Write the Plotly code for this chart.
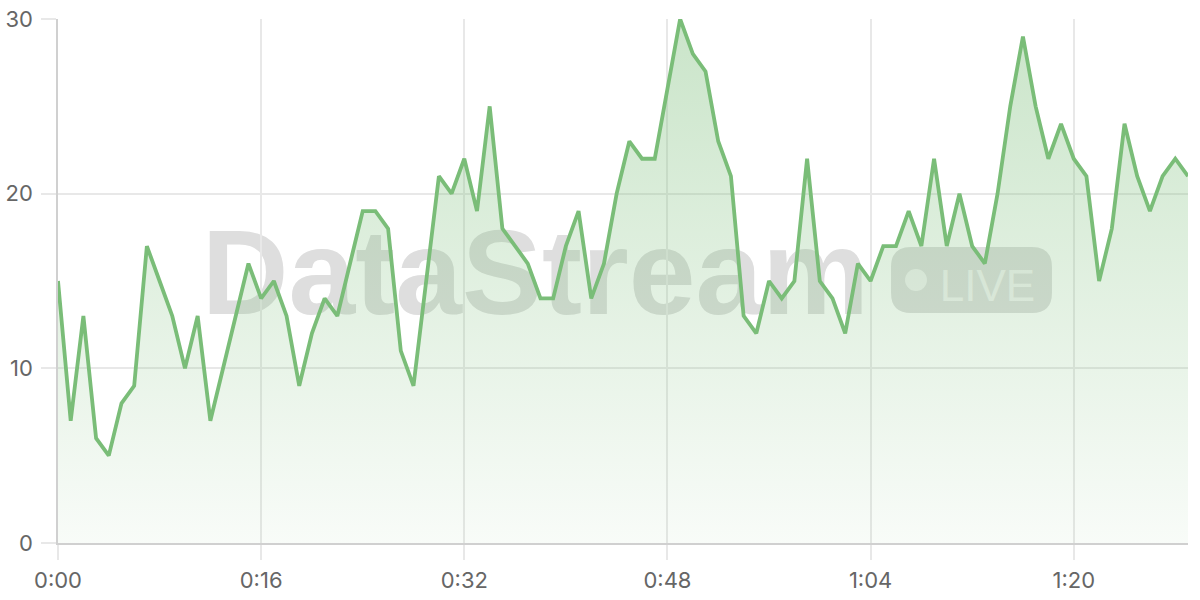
import plotly.graph_objects as go

seconds = list(range(90))
values = [15, 7, 13, 6, 5, 8, 9, 17, 15, 13,
          10, 13, 7, 10, 13, 16, 14, 15, 13, 9,
          12, 14, 13, 16, 19, 19, 18, 11, 9, 15,
          21, 20, 22, 19, 25, 18, 17, 16, 14, 14,
          17, 19, 14, 16, 20, 23, 22, 22, 26, 30,
          28, 27, 23, 21, 13, 12, 15, 14, 15, 22,
          15, 14, 12, 16, 15, 17, 17, 19, 17, 22,
          17, 20, 17, 16, 20, 25, 29, 25, 22, 24,
          22, 21, 15, 18, 24, 21, 19, 21, 22, 21]
x_tick_vals = [0, 16, 32, 48, 64, 80]
x_tick_text = ["0:00", "0:16", "0:32", "0:48", "1:04", "1:20"]
y_tick_vals = [0, 10, 20, 30]

fig = go.Figure()
fig.add_trace(go.Scatter(
    x=seconds, y=values, mode="lines",
    line=dict(color="rgb(122,189,120)", width=3.8),
    fill="tozeroy",
    fillgradient=dict(type="vertical", start=0, stop=30,
                      colorscale=[[0, "rgba(122,189,120,0.05)"],
                                  [1, "rgba(122,189,120,0.40)"]]),
    hoverinfo="skip",
))

# watermark (below traces)
fig.add_shape(type="rect", xref="paper", yref="paper", layer="below",
              x0=0.122, x1=0.73, y0=0.408, y1=0.668,
              line=dict(width=0), fillcolor="rgba(0,0,0,0)",
              label=dict(text="<b>DataStream</b>", textposition="middle left",
                         font=dict(family="Liberation Sans", size=120, color="#dedede")))
fig.add_shape(type="path", xref="paper", yref="paper", layer="below",
              path=("M 0.7549,0.5649 L 0.8619,0.5649 Q 0.8796,0.5649 0.8796,0.5267 "
                    "L 0.8796,0.4771 Q 0.8796,0.4389 0.8619,0.4389 L 0.7549,0.4389 "
                    "Q 0.7372,0.4389 0.7372,0.4771 L 0.7372,0.5267 Q 0.7372,0.5649 0.7549,0.5649 Z"),
              line=dict(width=0), fillcolor="#dedede")
fig.add_shape(type="circle", xref="paper", yref="paper", layer="below",
              x0=0.7496, x1=0.7690, y0=0.4809, y1=0.5229,
              line=dict(width=0), fillcolor="#f2f2f2")
fig.add_shape(type="rect", xref="paper", yref="paper", layer="below",
              x0=0.775, x1=0.87, y0=0.44, y1=0.56,
              line=dict(width=0), fillcolor="rgba(0,0,0,0)",
              label=dict(text="LIVE", textposition="middle left",
                         font=dict(family="Liberation Sans", size=44, color="#f2f2f2")))

fig.update_layout(
    width=1200, height=600,
    margin=dict(l=58, r=12, t=19, b=57),
    paper_bgcolor="white", plot_bgcolor="white",
    showlegend=False,
    font=dict(family="Inter", color="#666666", size=22),
)
fig.update_xaxes(
    range=[0, 89], tickvals=x_tick_vals, ticktext=x_tick_text,
    showgrid=True, gridcolor="#e8e8e8", gridwidth=1.5,
    showline=True, linecolor="#d0d0d0", linewidth=1.5,
    ticks="outside", ticklen=15, tickcolor="#e8e8e8", tickwidth=1.5,
    ticklabelstandoff=2, zeroline=False, fixedrange=True, automargin=False,
)
fig.update_yaxes(
    range=[0, 30], tickvals=y_tick_vals,
    showgrid=True, gridcolor="#e8e8e8", gridwidth=1.5,
    showline=True, linecolor="#d0d0d0", linewidth=1.5,
    ticks="outside", ticklen=15, tickcolor="#e8e8e8", tickwidth=1.5,
    ticklabelstandoff=4, zeroline=False, fixedrange=True, automargin=False,
)

fig.write_html("out.html", config={"displayModeBar": False},
               post_script="document.body.style.margin='0';document.body.style.overflow='hidden';")
